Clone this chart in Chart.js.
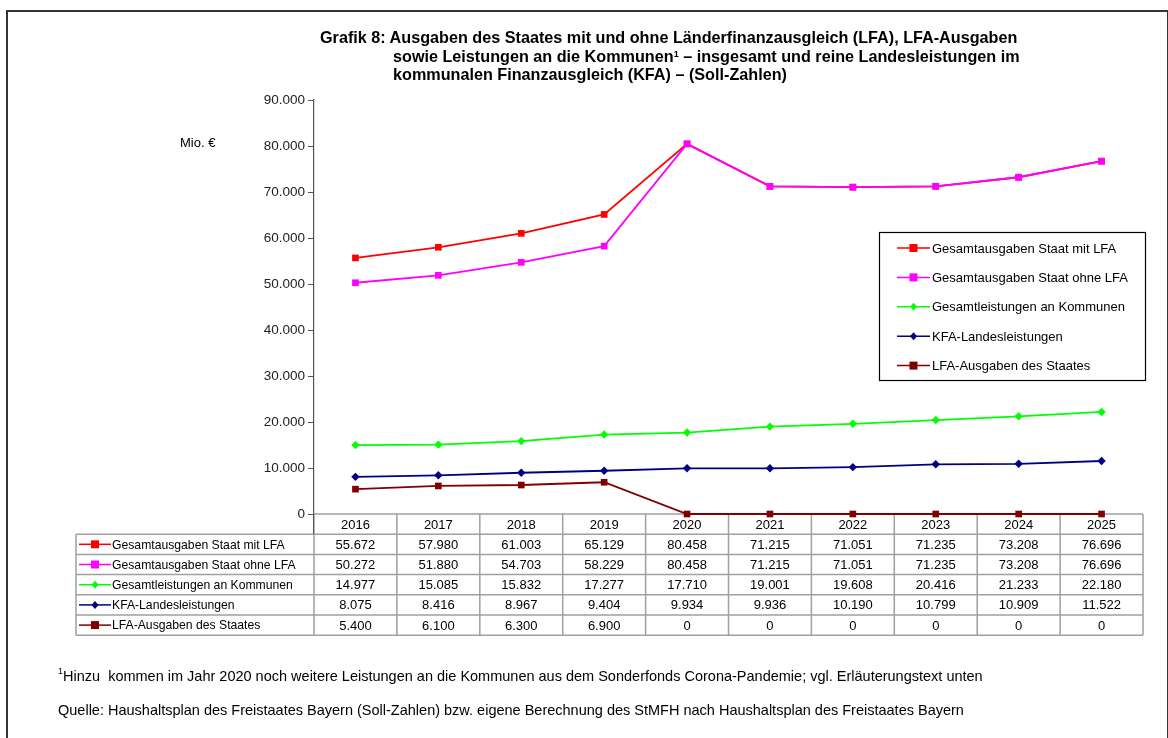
<!DOCTYPE html>
<html><head><meta charset="utf-8">
<script src="https://cdn.jsdelivr.net/npm/chart.js@4.4.0/dist/chart.umd.min.js"></script>
<style>
html,body{margin:0;padding:0;background:#fff;width:1168px;height:738px;overflow:hidden;}
#frame{position:absolute;left:6px;top:10px;width:1159px;height:760px;border:2px solid #333;border-bottom:none;}
#c{position:absolute;left:0;top:0;}
.t{position:absolute;font-family:"Liberation Sans Narrow","Arial Narrow","Liberation Sans",Arial,sans-serif;color:#000;white-space:nowrap;}
#title{font-weight:bold;font-size:16.2px;line-height:18.5px;}
.fn{font-size:14.5px;}
sup{font-size:9px;vertical-align:top;position:relative;top:-2px;}
</style></head>
<body>
<div id="frame"></div>
<canvas id="c" width="1168" height="738"></canvas>
<div class="t" id="title" style="left:320px;top:28px;">Grafik 8: Ausgaben des Staates mit und ohne Länderfinanzausgleich (LFA), LFA-Ausgaben<br><span style="padding-left:73px">sowie Leistungen an die Kommunen<sup>1</sup> – insgesamt und reine Landesleistungen im</span><br><span style="padding-left:73px">kommunalen Finanzausgleich (KFA) – (Soll-Zahlen)</span></div>
<div class="t" style="left:180px;top:135px;font-family:'Liberation Sans',Arial,sans-serif;font-size:13px;">Mio. €</div>
<div class="t fn" style="left:58px;top:668px;"><sup>1</sup>Hinzu&nbsp; kommen im Jahr 2020 noch weitere Leistungen an die Kommunen aus dem Sonderfonds Corona-Pandemie; vgl. Erläuterungstext unten</div>
<div class="t fn" style="left:58px;top:702px;">Quelle: Haushaltsplan des Freistaates Bayern (Soll-Zahlen) bzw. eigene Berechnung des StMFH nach Haushaltsplan des Freistaates Bayern</div>
<script>
const years = ['2016','2017','2018','2019','2020','2021','2022','2023','2024','2025'];
const seriesNames = ['Gesamtausgaben Staat mit LFA','Gesamtausgaben Staat ohne LFA','Gesamtleistungen an Kommunen','KFA-Landesleistungen','LFA-Ausgaben des Staates'];
const mitLFA    = [55672,57980,61003,65129,80458,71215,71051,71235,73208,76696];
const ohneLFA   = [50272,51880,54703,58229,80458,71215,71051,71235,73208,76696];
const kommunen  = [14977,15085,15832,17277,17710,19001,19608,20416,21233,22180];
const kfa       = [8075,8416,8967,9404,9934,9936,10190,10799,10909,11522];
const lfa       = [5400,6100,6300,6900,0,0,0,0,0,0];
const yTicks    = [0,10000,20000,30000,40000,50000,60000,70000,80000,90000];

const colors = ['#ff0000','#ff00ff','#00ff00','#000080','#800000'];
const shapes = ['rect','rect','rectRot','rectRot','rect'];
const radii = [4.7,4.7,4.2,4.2,4.7];
const allData = [mitLFA,ohneLFA,kommunen,kfa,lfa];

function fmt(v){
  const s = String(Math.round(v));
  return s.replace(/\B(?=(\d{3})+(?!\d))/g,'.');
}

const FONT = '"Liberation Sans", Arial, sans-serif';

function drawMarker(ctx, shape, x, y, r, color){
  ctx.save();
  ctx.fillStyle = color;
  ctx.beginPath();
  if (shape === 'rect'){ ctx.rect(x-r, y-r, 2*r, 2*r); }
  else { ctx.moveTo(x, y-r-0.5); ctx.lineTo(x+r, y); ctx.lineTo(x, y+r+0.5); ctx.lineTo(x-r, y); ctx.closePath(); }
  ctx.fill();
  ctx.restore();
}
function drawSwatch(ctx, i, x1, x2, y){
  ctx.save();
  ctx.strokeStyle = colors[i]; ctx.lineWidth = 1.5;
  ctx.beginPath(); ctx.moveTo(x1, y); ctx.lineTo(x2, y); ctx.stroke();
  ctx.restore();
  drawMarker(ctx, shapes[i], (x1+x2)/2, y, radii[i]-0.7, colors[i]);
}

const tablePlugin = {
  id: 'tablePlugin',
  beforeDatasetsDraw(chart){
    const ctx = chart.ctx;
    const xs = chart.scales.x;
    const area = chart.chartArea;
    const top = area.bottom;
    const rowH = 20.2;
    const labelLeft = 76;
    const n = years.length;
    const colW = (area.right - area.left)/n;
    ctx.save();
    ctx.strokeStyle = '#a0a0a0';
    ctx.lineWidth = 1.5;
    ctx.beginPath();
    for (let r = 1; r <= 6; r++){
      const y = top + rowH*r;
      ctx.moveTo(labelLeft, y); ctx.lineTo(area.right, y);
    }
    ctx.moveTo(area.left, top); ctx.lineTo(area.right, top);
    for (let c = 0; c <= n; c++){
      const x = area.left + colW*c;
      ctx.moveTo(x, top); ctx.lineTo(x, top + rowH*6);
    }
    ctx.moveTo(labelLeft, top + rowH); ctx.lineTo(labelLeft, top + rowH*6);
    ctx.stroke();
    ctx.fillStyle = '#000';
    ctx.font = '13px ' + FONT;
    ctx.textAlign = 'center'; ctx.textBaseline = 'middle';
    years.forEach((y, i) => ctx.fillText(y, xs.getPixelForValue(i), top + rowH*0.5 + 1));
    allData.forEach((d, r) => {
      const yc = top + rowH*(r+1.5) + 1;
      d.forEach((v, i) => { ctx.fillText(fmt(v), xs.getPixelForValue(i), yc); });
      drawSwatch(ctx, r, 79, 111, yc - 1);
    });
    ctx.textAlign = 'left';
    ctx.font = '12.2px ' + FONT;
    seriesNames.forEach((s, r) => ctx.fillText(s, 112, top + rowH*(r+1.5) + 1));
    ctx.strokeStyle = '#555'; ctx.lineWidth = 1;
    ctx.beginPath(); ctx.moveTo(area.left - 0.5, top); ctx.lineTo(area.left - 0.5, top + rowH); ctx.stroke();
    ctx.restore();
  },
  afterDraw(chart){
    const ctx = chart.ctx;
    ctx.save();
    const lx = 879, ly = 232, lw = 266, lh = 148;
    ctx.fillStyle = '#fff'; ctx.fillRect(lx, ly, lw, lh);
    ctx.strokeStyle = '#000'; ctx.lineWidth = 1.2;
    ctx.strokeRect(lx + 0.5, ly + 0.5, lw, lh);
    ctx.font = '13px ' + FONT; ctx.fillStyle = '#000';
    ctx.textAlign = 'left'; ctx.textBaseline = 'middle';
    seriesNames.forEach((s, r) => {
      const yy = ly + 16 + r*29.4;
      drawSwatch(ctx, r, 897, 930, yy);
      ctx.fillText(s, 932, yy + 1);
    });
    ctx.restore();
  }
};

const datasets = seriesNames.map((name, i) => ({
  label: name,
  data: allData[i],
  borderColor: colors[i],
  backgroundColor: colors[i],
  borderWidth: 1.8,
  pointStyle: shapes[i],
  pointRadius: radii[i],
  pointHoverRadius: radii[i],
  pointBorderWidth: 0,
  tension: 0,
  clip: false,
  order: i === 1 ? 0 : (i === 0 ? 1 : i)
}));

new Chart(document.getElementById('c'), {
  type: 'line',
  data: { labels: years, datasets },
  options: {
    responsive: false,
    animation: false,
    devicePixelRatio: 1,
    layout: { padding: { left: 254, right: 25, top: 100, bottom: 224 } },
    plugins: { legend: { display: false }, title: { display: false }, tooltip: { enabled: false } },
    scales: {
      x: {
        type: 'category', offset: true,
        ticks: { display: false },
        grid: { display: false, drawTicks: false },
        border: { display: false }
      },
      y: {
        min: 0, max: 90000,
        afterFit(s){ s.width = 60; },
        afterBuildTicks(s){ s.ticks = yTicks.map(v => ({ value: v })); },
        ticks: { callback: v => fmt(v), color: '#222', font: { family: FONT, size: 13.5 }, padding: 3 },
        grid: { drawOnChartArea: false, drawTicks: true, tickLength: 6, color: '#555', lineWidth: 1 },
        border: { display: true, color: '#555', width: 1.2 }
      }
    }
  },
  plugins: [tablePlugin]
});
</script>
</body></html>
